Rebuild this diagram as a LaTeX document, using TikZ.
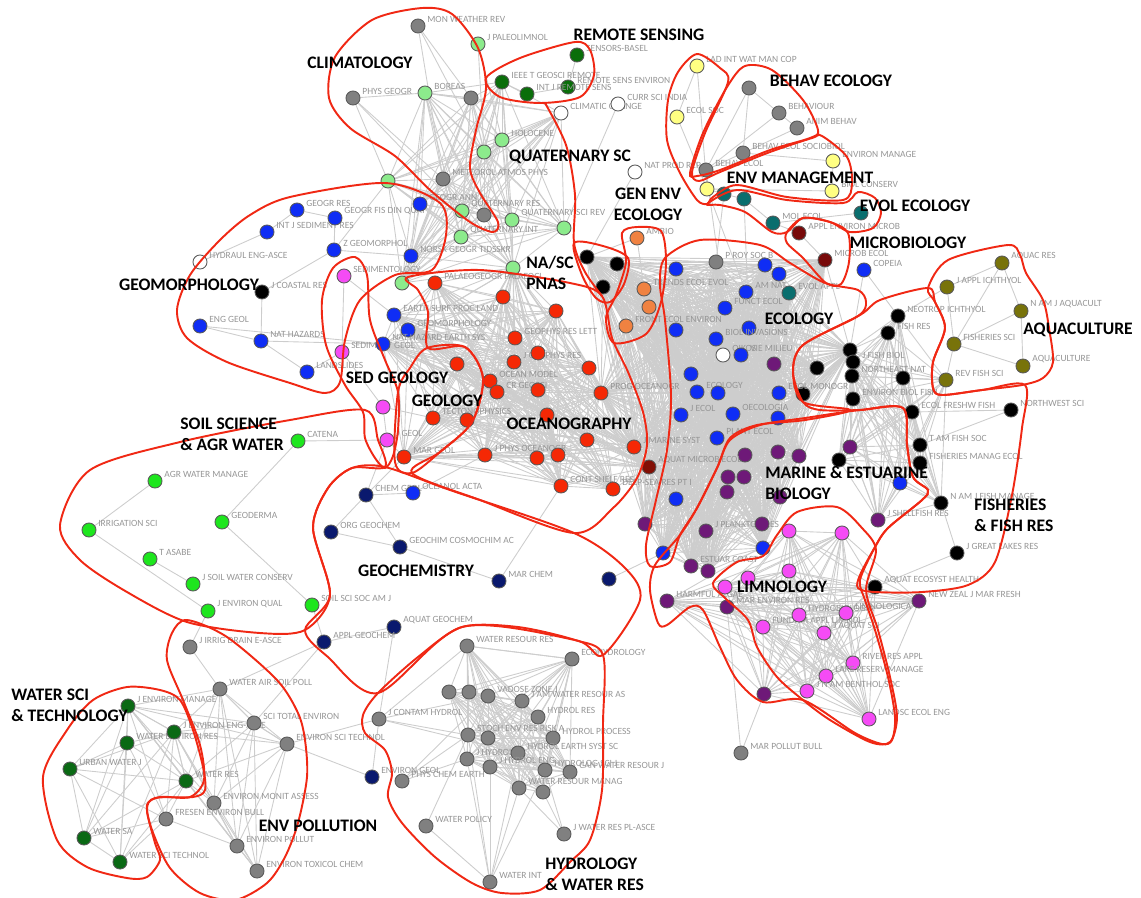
\documentclass[tikz,border=0pt]{standalone}
\usepackage{fontspec}
\setmainfont{Carlito}
\usepackage{tikz}

\definecolor{dotgray}{RGB}{128,128,128}
\definecolor{quatgreen}{RGB}{140,235,140}
\definecolor{rsgreen}{RGB}{10,110,10}
\definecolor{wsgreen}{RGB}{10,105,20}
\definecolor{soilgreen}{RGB}{30,230,30}
\definecolor{geoblue}{RGB}{15,45,245}
\definecolor{ocred}{RGB}{245,40,5}
\definecolor{ocdark}{RGB}{130,15,5}
\definecolor{sedpink}{RGB}{245,75,245}
\definecolor{navyc}{RGB}{10,25,110}
\definecolor{marpurple}{RGB}{110,25,120}
\definecolor{evteal}{RGB}{10,110,110}
\definecolor{microred}{RGB}{120,10,10}
\definecolor{envyellow}{RGB}{255,255,130}
\definecolor{aqolive}{RGB}{120,115,10}
\definecolor{genorange}{RGB}{240,130,65}
\definecolor{outlinered}{RGB}{240,40,20}
\definecolor{edgegray}{RGB}{205,205,205}
\definecolor{labgray}{RGB}{150,150,150}

\pgfdeclarelayer{bg}
\pgfsetlayers{bg,main}

\tikzset{
  dot/.style={circle,draw=black!65,line width=0.5pt,minimum size=8pt,inner sep=0pt},
  jlab/.style={anchor=west,inner sep=0pt,text=labgray,font=\fontsize{5.4}{6}\selectfont},
  clab/.style={inner sep=0pt,font=\fontsize{10}{11.8}\selectfont\bfseries},
  edge/.style={edgegray,line width=0.5pt},
  region/.style={outlinered,line width=1.1pt},
}

% all pairs of a list of dots
\newcommand{\meshall}[1]{%
  \foreach \a [count=\i] in {#1} {%
    \foreach \b [count=\j] in {#1} {%
      \ifnum\j>\i\relax \draw[edge] (\a) -- (\b);\fi}}}

\begin{document}
\begin{tikzpicture}[x=0.02cm,y=-0.02cm]
\useasboundingbox (0,0) rectangle (1141,897);

% journals
\foreach \n/\x/\y/\c/\t in {
  cl1/418/26/dotgray/MON WEATHER REV, cl2/353/98/dotgray/PHYS GEOGR,
  cl3/471/98/dotgray/{}, cl4/443/179/dotgray/METEOROL ATMOS PHYS,
  cl5/484/215/dotgray/{},
  qs1/478/44/quatgreen/J PALEOLIMNOL, qs2/425/93/quatgreen/BOREAS,
  qs3/484/152/quatgreen/{}, qs4/502/140/quatgreen/HOLOCENE,
  qs5/388/181/quatgreen/{}, qs6/462/211/quatgreen/QUATERNARY RES,
  qs7/512/220/quatgreen/QUATERNARY SCI REV, qs8/564/228/quatgreen/{},
  qs9/461/237/quatgreen/QUATERNARY INT, qs10/513/268/quatgreen/{},
  qs11/402/283/quatgreen/{},
  rs1/577/55/rsgreen/SENSORS-BASEL, rs2/568/87/rsgreen/REMOTE SENS ENVIRON,
  rs3/527/94/rsgreen/INT J REMOTE SENS, rs4/502/82/rsgreen/IEEE T GEOSCI REMOTE,
  w1/561/113/white/CLIMATIC CHANGE, w2/618/104/white/CURR SCI INDIA,
  w3/635/172/white/NAT PROD REP, w4/200/262/white/HYDRAUL ENG-ASCE,
  w5/723/355/white/OIKOS,
  y1/697/66/envyellow/LAD INT WAT MAN COP, y2/677/117/envyellow/ECOL SOC,
  y3/833/161/envyellow/ENVIRON MANAGE, y4/832/191/envyellow/BIOL CONSERV,
  y5/707/189/envyellow/{},
  be1/749/88/dotgray/{}, be2/779/113/dotgray/BEHAVIOUR,
  be3/797/128/dotgray/ANIM BEHAV, be4/743/153/dotgray/BEHAV ECOL SOCIOBIOL,
  be5/706/170/dotgray/BEHAV ECOL,
  ev1/724/194/evteal/{}, ev2/744/199/evteal/{}, ev3/773/223/evteal/MOL ECOL,
  ev4/861/213/evteal/{}, ev5/789/293/evteal/EVOL APPL,
  mi1/799/233/microred/APPL ENVIRON MICROB, mi2/825/260/microred/MICROB ECOL,
  ec1/864/270/geoblue/COPEIA,
  aq1/1002/263/aqolive/AQUAC RES, aq2/947/287/aqolive/J APPL ICHTHYOL,
  aq3/1021/311/aqolive/N AM J AQUACULT, aq4/954/344/aqolive/FISHERIES SCI,
  aq5/1023/366/aqolive/AQUACULTURE, aq6/946/380/aqolive/REV FISH SCI,
  fi1/898/316/black/NEOTROP ICHTHYOL, fi2/888/333/black/FISH RES,
  fi3/850/350/black/{}, fi4/853/362/black/J FISH BIOL, fi5/817/368/black/{},
  fi6/852/376/black/NORTHEAST NAT, fi7/903/378/black/{}, fi8/803/394/black/{},
  fi9/853/399/black/ENVIRON BIOL FISH, fi10/912/412/black/ECOL FRESHW FISH,
  fi11/1011/410/black/NORTHWEST SCI, fi12/920/445/black/T AM FISH SOC,
  fi13/920/463/black/FISHERIES MANAG ECOL, fi14/941/503/black/N AM J FISH MANAGE,
  fi15/957/553/black/J GREAT LAKES RES, fi16/875/587/black/AQUAT ECOSYST HEALTH,
  fi17/839/460/black/{},
  na1/587/257/black/{}, na2/617/264/black/{}, na3/603/287/black/{},
  ge1/637/238/genorange/AMBIO, ge2/644/289/genorange/TRENDS ECOL EVOL,
  ge3/649/307/genorange/{}, ge4/626/326/genorange/FRONT ECOL ENVIRON,
  gr1/716/262/dotgray/P ROY SOC B,
  eb1/676/269/geoblue/{}, eb2/765/265/geoblue/{}, eb3/779/274/geoblue/{},
  eb4/746/292/geoblue/AM NAT, eb5/725/308/geoblue/FUNCT ECOL,
  eb6/676/330/geoblue/{}, eb7/749/328/geoblue/{},
  eb8/716/339/geoblue/BIOL INVASIONS, eb9/741/355/geoblue/VIE MILIEU,
  eb10/691/374/geoblue/{}, eb11/697/392/geoblue/ECOLOGY,
  eb12/718/393/geoblue/{}, eb13/779/393/geoblue/ECOL MONOGR,
  eb14/681/415/geoblue/J ECOL, eb15/733/414/geoblue/OECOLOGIA,
  eb16/778/418/geoblue/{}, eb17/717/438/geoblue/PLANT ECOL,
  eb18/676/499/geoblue/{}, eb19/663/553/geoblue/{}, eb20/763/548/geoblue/{},
  eb21/900/483/geoblue/{},
  pu1/774/364/marpurple/{}, pu2/745/455/marpurple/{}, pu3/778/452/marpurple/{},
  pu4/799/456/marpurple/{}, pu5/850/447/marpurple/{}, pu6/728/477/marpurple/{},
  pu7/744/477/marpurple/{}, pu8/727/492/marpurple/{}, pu9/780/497/marpurple/{},
  pu10/645/524/marpurple/{}, pu11/706/531/marpurple/J PLANKTON RES,
  pu12/762/524/marpurple/{}, pu13/691/566/marpurple/ESTUAR COAST,
  pu14/708/571/marpurple/{}, pu15/667/601/marpurple/HARMFUL ALGAE,
  pu16/727/607/marpurple/MAR ENVIRON RES, pu17/764/694/marpurple/{},
  pu18/919/601/marpurple/NEW ZEAL J MAR FRESH, pu19/878/520/marpurple/J SHELLFISH RES,
  sg1/344/276/sedpink/SEDIMENTOLOGY, sg2/342/352/sedpink/SEDIMENT GEOL,
  sg3/383/407/sedpink/{}, sg4/387/440/sedpink/J GEOL,
  li1/725/587/sedpink/{}, li2/748/578/sedpink/{}, li3/789/571/sedpink/{},
  li4/789/531/sedpink/{}, li5/842/533/sedpink/{},
  li6/763/627/sedpink/FUNDAM APPL LIMNOL, li7/799/615/sedpink/HYDROBIOLOGIA,
  li8/846/613/sedpink/LIMNOLOGICA, li9/824/633/sedpink/J AQUAT SCI,
  li10/853/663/sedpink/RIVER RES APPL, li11/826/676/sedpink/LAKE RESERV MANAGE,
  li12/807/691/sedpink/J N AM BENTHOL SOC, li13/869/719/sedpink/LANDSC ECOL ENG,
  oc1/503/297/ocred/{}, oc2/556/311/ocred/{}, oc3/515/338/ocred/GEOPHYS RES LETT,
  oc4/514/362/ocred/J GEOPHYS RES, oc5/457/364/ocred/{},
  oc6/490/381/ocred/OCEAN MODEL, oc7/497/392/ocred/CR GEOSCI,
  oc8/538/390/ocred/{}, oc9/538/353/ocred/{}, oc10/433/418/ocred/TECTONOPHYSICS,
  oc11/467/420/ocred/{}, oc12/547/415/ocred/{}, oc13/404/457/ocred/MAR GEOL,
  oc14/485/455/ocred/J PHYS OCEANOGR, oc15/537/458/ocred/{}, oc16/558/455/ocred/{},
  oc17/561/486/ocred/CONT SHELF RES, oc18/589/368/ocred/{},
  oc19/601/393/ocred/PROG OCEANOGR, oc20/634/447/ocred/J MARINE SYST,
  oc21/613/489/ocred/DEEP-SEA RES PT I, oc22/587/440/ocred/{},
  oc23/435/283/ocred/PALAEOGEOGR PALAEOCL, od1/649/467/ocdark/AQUAT MICROB ECOL,
  gm1/297/210/geoblue/GEOGR RES, gm2/267/232/geoblue/INT J SEDIMENT RES,
  gm3/335/218/geoblue/GEOGR FIS DIN QUAT, gm4/420/204/geoblue/GEOGR ANN A,
  gm5/334/250/geoblue/Z GEOMORPHOL, gm6/411/256/geoblue/NORSK GEOGR TIDSSKR,
  gm7/394/315/geoblue/EARTH SURF PROC LAND, gm8/408/330/geoblue/GEOMORPHOLOGY,
  gm9/383/344/geoblue/NAT HAZARD EARTH SYS, gm10/307/372/geoblue/LANDSLIDES,
  gm11/200/326/geoblue/ENG GEOL, gm12/261/341/geoblue/NAT HAZARDS,
  gm13/262/292/black/J COASTAL RES,
  so1/298/441/soilgreen/CATENA, so2/155/481/soilgreen/AGR WATER MANAGE,
  so3/89/530/soilgreen/IRRIGATION SCI, so4/222/522/soilgreen/GEODERMA,
  so5/150/559/soilgreen/T ASABE, so6/193/584/soilgreen/J SOIL WATER CONSERV,
  so7/208/611/soilgreen/J ENVIRON QUAL, so8/312/605/soilgreen/SOIL SCI SOC AM J,
  gc1/366/495/navyc/CHEM GEOL, gc2/331/532/navyc/ORG GEOCHEM,
  gc3/400/547/navyc/GEOCHIM COSMOCHIM AC, gc4/499/581/navyc/MAR CHEM,
  gc5/609/579/navyc/{}, gc6/394/627/navyc/AQUAT GEOCHEM,
  gc7/324/642/navyc/APPL GEOCHEM, gc8/372/777/navyc/ENVIRON GEOL,
  gc9/413/493/geoblue/OCEANOL ACTA,
  ws1/128/706/wsgreen/J ENVIRON MANAGE, ws2/127/743/wsgreen/WATER ENVIRON RES,
  ws3/174/732/wsgreen/J ENVIRON ENG-ASCE, ws4/70/769/wsgreen/URBAN WATER J,
  ws5/186/781/wsgreen/WATER RES, ws6/84/838/wsgreen/WATER SA,
  ws7/120/862/wsgreen/WATER SCI TECHNOL,
  ep1/190/647/dotgray/J IRRIG DRAIN E-ASCE, ep2/220/689/dotgray/WATER AIR SOIL POLL,
  ep3/254/723/dotgray/SCI TOTAL ENVIRON, ep4/287/744/dotgray/ENVIRON SCI TECHNOL,
  ep5/214/803/dotgray/ENVIRON MONIT ASSESS, ep6/166/819/dotgray/FRESEN ENVIRON BULL,
  ep7/237/846/dotgray/ENVIRON POLLUT, ep8/257/871/dotgray/ENVIRON TOXICOL CHEM,
  hy1/467/646/dotgray/WATER RESOUR RES, hy2/572/659/dotgray/ECOHYDROLOGY,
  hy3/449/692/dotgray/{}, hy4/469/692/dotgray/{}, hy5/488/696/dotgray/VADOSE ZONE J,
  hy6/522/701/dotgray/J AM WATER RESOUR AS, hy7/379/719/dotgray/J CONTAM HYDROL,
  hy8/538/717/dotgray/HYDROL RES, hy9/468/735/dotgray/STOCH ENV RES RISK A,
  hy10/488/738/dotgray/{}, hy11/553/738/dotgray/HYDROL PROCESS,
  hy12/467/759/dotgray/J HYDROL, hy13/518/753/dotgray/HYDROL EARTH SYST SC,
  hy14/490/767/dotgray/J HYDROL ENG, hy15/545/770/dotgray/HYDROLOG SCI J,
  hy16/570/772/dotgray/CAN WATER RESOUR J, hy17/519/788/dotgray/WATER RESOUR MANAG,
  hy18/543/792/dotgray/{}, hy19/402/781/dotgray/PHYS CHEM EARTH,
  hy20/426/826/dotgray/WATER POLICY, hy21/564/834/dotgray/J WATER RES PL-ASCE,
  hy22/490/882/dotgray/WATER INT, mpb/741/753/dotgray/MAR POLLUT BULL}
{
  \node[dot,fill=\c] (\n) at (\x,\y) {};
  \node[jlab] (\n-l) at (\x+9,\y-7) {\t};
}

% citation links
\begin{pgfonlayer}{bg}
\meshall{qs2,qs3,qs4,qs5,qs6,qs7,qs8,qs9,qs10,qs11,cl3,cl4,cl5,gm4,gm6,rs4,w1}
\meshall{oc1,oc2,oc3,oc4,oc5,oc6,oc7,oc8,oc9,oc10,oc11,oc12,oc13,oc14,oc15,oc16,oc17,oc18,oc19,oc20,oc21,oc22,oc23,od1,gm7,gm8,gm9,qs10}
\meshall{eb1,eb2,eb3,eb4,eb5,eb6,eb7,eb8,eb9,eb10,eb11,eb12,eb13,eb14,eb15,eb16,eb17,eb18,eb19,eb20,pu1,pu2,pu3,pu4,pu6,pu7,pu8,pu9,pu10,pu11,pu12,pu13,pu14,gr1,w5,ge2,ge3,ge4,na1,na2,na3,fi3,fi5,fi8,ev5,mi2,od1,oc19,oc20}
\meshall{li1,li2,li3,li4,li5,li6,li7,li8,li9,li10,li11,li12,li13,pu15,pu16,pu17,pu18,fi16}
\meshall{hy1,hy2,hy3,hy4,hy5,hy6,hy8,hy9,hy10,hy11,hy12,hy13,hy14,hy15,hy16,hy17,hy18}
\meshall{ws1,ws2,ws3,ws4,ws5,ws6,ws7,ep6}
\meshall{ep2,ep3,ep4,ep5,ep7,ep8,ws1,ws3,ws5}
\meshall{fi1,fi2,fi3,fi4,fi6,fi7,fi9,fi10,fi12,fi13,aq6,fi17,pu5,eb21,pu19,fi14}
\foreach \a/\b in {cl1/cl4, cl1/cl3, cl1/qs3, cl2/qs2, cl2/cl4, cl2/qs6, cl2/qs5,
  qs2/cl3, qs1/qs3, qs1/qs4, rs1/rs2, rs2/rs3, rs3/rs4, rs4/qs3, w2/qs8, w3/na1,
  gm1/gm2, gm2/w4, gm1/gm3, gm3/gm5, gm5/gm6, gm5/qs5, gm13/gm5, gm13/gm12,
  gm11/gm12, gm11/gm9, gm12/gm10, gm12/gm9, gm10/sg2, sg1/sg2, sg2/sg3, sg3/sg4,
  sg1/gm7, sg4/oc13, sg3/oc10, so1/so4, so2/so3, so3/so7, so5/so6, so4/so8,
  so7/ep1, so8/gc7, so1/sg4, gc1/gc2, gc1/gc3, gc1/gc9, gc1/sg4, gc1/oc13,
  gc2/gc3, gc3/gc4, gc4/oc17, gc6/gc7, gc7/ep3, gc7/ep2, gc6/hy7, gc5/eb19,
  gc8/hy7, gc8/ep4, gc9/oc14, ep1/ep2, ep2/ep3, ep3/ep4, ep4/hy7, ep6/ep7,
  hy22/hy9, hy22/hy12, hy22/hy13, hy22/hy14, hy22/hy15, hy22/hy17, hy22/hy20,
  hy20/hy9, hy19/hy9, hy19/hy12, hy19/hy5, hy7/hy1, hy7/hy5, hy7/hy9, hy7/hy13,
  hy21/hy17, hy21/hy18, hy21/hy15, hy2/hy1, hy1/hy6, hy5/hy17,
  be1/be2, be2/be3, be1/be4, be4/be3, be4/be5, be1/be5, be5/y5, be2/be5,
  y1/y2, y2/y5, y1/y5, y3/y4, y3/be4, y4/y5, ev1/ev2, ev2/ev3, ev3/ev4,
  ev1/y5, ev3/mi1, mi1/mi2, ev1/gr1, y5/eb4, be5/eb5, ev2/eb7,
  aq1/aq2, aq1/aq3, aq2/aq4, aq3/aq5, aq4/aq5, aq4/aq6, aq2/fi1, aq6/fi7,
  aq3/aq4, aq1/aq4, fi10/fi11, fi14/fi15, fi15/fi16, fi11/fi12,
  ec1/fi1, ec1/fi3, ge1/ge2, ge1/na1, ge2/ge3, ge3/ge4, mpb/pu16, mpb/pu17,
  pu18/li8, pu19/pu5, eb21/pu19}
  \draw[edge] (\a) -- (\b);
\end{pgfonlayer}

% research areas
\draw[region] plot[smooth cycle] coordinates {(422,8) (452,14) (478,48) (486,88) (476,130) (470,168) (480,193) (498,222) (493,232) (470,222) (430,190) (395,156) (350,128) (329,98) (335,57) (372,20)};
\draw[region] plot[smooth cycle] coordinates {(486,78) (520,58) (575,42) (590,50) (594,75) (580,97) (540,103) (500,97)};
\draw[region] plot[smooth] coordinates {(545,103) (566,145) (575,195) (574,243) (585,272) (602,296)};
\draw[region] plot[smooth cycle] coordinates {(574,243) (603,246) (628,258) (624,284) (610,302) (596,298) (582,275)};
\draw[region] plot[smooth cycle] coordinates {(622,233) (637,227) (661,231) (666,262) (661,302) (646,334) (614,343) (606,318) (616,295) (626,262)};
\draw[region] plot[smooth cycle] coordinates {(665,258) (700,240) (760,245) (790,263) (825,283) (858,290) (866,302) (858,316) (803,345) (793,372) (803,402) (850,410) (805,420) (757,425) (730,438) (717,468) (697,508) (680,535) (670,562) (650,566) (646,545) (656,500) (667,450) (671,395) (665,320) (660,285)};
\draw[region] plot[smooth cycle] coordinates {(408,277) (480,270) (570,283) (602,296) (612,338) (628,372) (643,412) (647,445) (637,478) (613,508) (574,533) (480,500) (412,473) (440,452) (472,422) (483,378) (465,347) (428,348) (428,312) (418,290)};
\draw[region] plot[smooth cycle] coordinates {(427,348) (465,347) (483,378) (472,422) (440,452) (412,473) (395,462) (398,392) (410,368)};
\draw[region] plot[smooth cycle] coordinates {(355,257) (367,275) (370,320) (385,360) (398,392) (398,430) (393,456) (385,468) (375,458) (365,438) (363,412) (345,385) (326,345) (322,300) (333,268)};
\draw[region] plot[smooth cycle] coordinates {(290,197) (385,183) (440,203) (446,235) (432,270) (395,275) (360,300) (345,340) (340,382) (325,393) (290,383) (227,362) (187,338) (177,310) (190,275) (220,240) (250,215)};
\draw[region] plot[smooth cycle] coordinates {(60,525) (90,470) (180,442) (290,420) (365,410) (378,440) (385,467) (352,468) (328,488) (313,528) (330,595) (305,630) (260,633) (187,622) (127,592) (80,560)};
\draw[region] plot[smooth cycle] coordinates {(385,467) (450,490) (574,533) (625,568) (640,600) (603,655) (575,640) (462,627) (378,693) (328,657) (305,630) (330,595) (313,528) (328,488) (352,468)};
\draw[region] plot[smooth cycle] coordinates {(378,693) (418,657) (462,627) (518,627) (575,640) (603,655) (603,723) (602,790) (590,840) (570,862) (540,890) (502,893) (472,883) (435,857) (402,823) (388,797) (392,773) (385,750) (365,733) (363,715)};
\draw[region] plot[smooth cycle] coordinates {(187,620) (227,637) (277,680) (298,713) (305,740) (307,777) (298,823) (285,857) (267,883) (235,900) (200,893) (170,868) (152,830) (147,805) (160,797) (190,797) (204,780) (200,745) (183,700) (167,660) (172,633)};
\draw[region] plot[smooth cycle] coordinates {(43,777) (67,730) (93,700) (127,687) (160,690) (180,700) (193,730) (203,767) (205,790) (193,797) (155,798) (147,810) (155,843) (160,860) (147,877) (127,878) (87,867) (57,840)};
\draw[region] plot[smooth cycle] coordinates {(690,173) (703,133) (727,87) (745,66) (772,70) (803,100) (818,130) (810,138) (770,150) (720,170) (697,176)};
\draw[region] plot[smooth cycle] coordinates {(697,54) (720,68) (728,82) (705,133) (692,172) (699,181) (720,172) (770,152) (812,138) (822,136) (847,157) (852,183) (843,200) (787,197) (737,185) (713,197) (707,204) (697,200) (680,173) (667,140) (668,100) (678,72)};
\draw[region] plot[smooth cycle] coordinates {(707,204) (737,190) (787,200) (843,203) (858,192) (875,198) (881,213) (873,228) (850,232) (830,222) (803,218) (787,232) (772,232) (745,212) (720,205)};
\draw[region] plot[smooth cycle] coordinates {(787,232) (803,218) (830,222) (848,233) (849,262) (841,284) (826,283) (803,258) (787,243)};
\draw[region] plot[smooth cycle] coordinates {(928,288) (948,260) (1008,245) (1020,255) (1026,273) (1043,300) (1049,328) (1053,362) (1043,378) (1022,385) (982,390) (942,395) (933,388) (933,362) (945,328) (935,302)};
\draw[region] plot[smooth cycle] coordinates {(860,315) (880,300) (928,288) (935,302) (945,328) (933,362) (933,388) (942,395) (982,390) (1025,385) (1022,428) (1012,495) (995,562) (968,585) (922,592) (875,592) (858,588) (860,575) (875,547) (888,528) (922,500) (928,490) (913,477) (907,445) (903,408) (860,410) (820,410) (803,402) (793,372) (803,345)};
\draw[region] plot[smooth cycle] coordinates {(730,440) (760,425) (805,418) (860,410) (903,408) (907,445) (913,477) (928,490) (922,500) (888,528) (875,547) (860,580) (865,600) (875,630) (888,677) (895,717) (892,740) (882,744) (855,733) (803,700) (763,702) (737,680) (720,647) (703,610) (690,607) (667,625) (658,623) (650,590) (655,565) (680,535) (697,508) (717,468)};
\draw[region] plot[smooth cycle] coordinates {(713,583) (737,562) (763,556) (777,535) (797,512) (837,507) (862,528) (876,550) (866,590) (878,630) (890,677) (897,717) (890,742) (870,742) (830,720) (803,700) (777,677) (757,647) (748,620) (725,598)};

% area names
\node[clab] (t-clim) at (360,63) {CLIMATOLOGY};
\node[clab] (t-rs) at (639,35) {REMOTE SENSING};
\node[clab] (t-behav) at (831,81) {BEHAV ECOLOGY};
\node[clab] (t-quat) at (570,157) {QUATERNARY SC};
\node[clab] (t-envm) at (800,178) {ENV MANAGEMENT};
\node[clab,align=center] (t-gen) at (648,204) {GEN ENV\\ECOLOGY};
\node[clab] (t-evol) at (915,206) {EVOL ECOLOGY};
\node[clab] (t-micro) at (908,243) {MICROBIOLOGY};
\node[clab,align=left,anchor=west] (t-nas) at (526,273) {NA/SC\\PNAS};
\node[clab] (t-geom) at (189,285) {GEOMORPHOLOGY};
\node[clab] (t-aqua) at (1078,330) {AQUACULTURE};
\node[clab] (t-eco) at (799,319) {ECOLOGY};
\node[clab] (t-sed) at (397,378) {SED GEOLOGY};
\node[clab] (t-geol) at (447,401) {GEOLOGY};
\node[clab,align=left,anchor=west] (t-soil) at (180,434) {SOIL SCIENCE\\\& AGR WATER};
\node[clab] (t-ocean) at (569,424) {OCEANOGRAPHY};
\node[clab,align=left,anchor=west] (t-mar) at (765,483) {MARINE \& ESTUARINE\\BIOLOGY};
\node[clab,align=left,anchor=west] (t-fish) at (974,515) {FISHERIES\\\& FISH RES};
\node[clab] (t-gchem) at (416,571) {GEOCHEMISTRY};
\node[clab] (t-limno) at (782,587) {LIMNOLOGY};
\node[clab,align=left,anchor=west] (t-ws) at (11,705) {WATER SCI\\\& TECHNOLOGY};
\node[clab] (t-envp) at (318,826) {ENV POLLUTION};
\node[clab,align=left,anchor=west] (t-hyd) at (545,874) {HYDROLOGY\\\& WATER RES};
\end{tikzpicture}
\end{document}
